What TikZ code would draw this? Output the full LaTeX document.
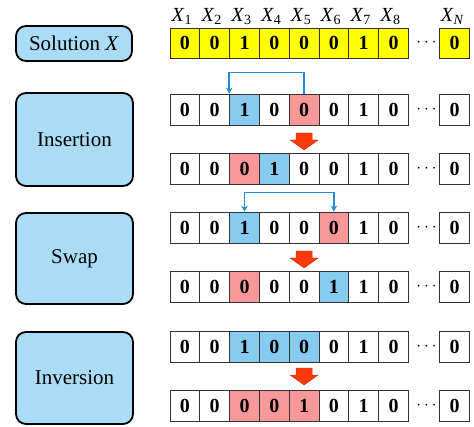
\documentclass[tikz,border=0pt]{standalone}
\usepackage{fontspec}
\setmainfont{Liberation Serif}
\usetikzlibrary{calc,arrows.meta}
\definecolor{cellblue}{RGB}{135,203,240}
\definecolor{cellpink}{RGB}{248,152,152}
\definecolor{boxblue}{RGB}{170,220,246}
\definecolor{connblue}{RGB}{30,140,215}
\definecolor{arrowred}{RGB}{250,58,10}
\definecolor{solyellow}{RGB}{255,255,0}
\newcommand{\cellrow}[4]{%
  \foreach \v/\f [count=\i] in {#3}{%
    \node[cell,fill=\f] (#1\i) at ({170+(\i-0.5)*29.8},#2) {\v};
  }
  \node[dotsnode] (#1d) at (426.5,#2) {$\cdots$};
  \node[cell,fill=#4] (#1N) at (454.5,#2) {0};
}
\newcommand{\redarrow}[1]{\filldraw[redarr, shift={(#1)}] (-8,-8.5) -- (8,-8.5) -- (8,-1.5) -- (14,-1.5) -- (0,8.5) -- (-14,-1.5) -- (-8,-1.5) -- cycle;}
\begin{document}
\begin{tikzpicture}[x=1pt,y=-1pt,
  cell/.style={draw=black!80,line width=0.8pt,minimum width=29.8pt,minimum height=31pt,inner sep=0pt,
     font=\fontsize{20}{24}\selectfont\bfseries},
  dotsnode/.style={inner sep=0pt,font=\fontsize{18}{20}\selectfont},
  lab/.style={anchor=base,inner sep=0pt,font=\fontsize{20}{24}\selectfont},
  opbox/.style={draw=black,line width=1.8pt,rounded corners=10pt,fill=boxblue,
     font=\fontsize{21}{25}\selectfont,inner sep=0pt},
  conn/.style={draw=connblue,line width=1.5pt,-{Stealth[length=6pt,width=6.5pt]}},
  redarr/.style={fill=arrowred,draw=arrowred!80!black,line width=0.4pt}]
\useasboundingbox (0,0) rectangle (474,426);
% operator boxes
\node[opbox,minimum width=116pt,minimum height=35pt] (sol) at (74,43.5) {Solution \textit{X}};
\node[opbox,minimum width=117pt,minimum height=93pt] (ins) at (74.5,139.5) {Insertion};
\node[opbox,minimum width=117pt,minimum height=91pt] (swp) at (74.5,258.5) {Swap};
\node[opbox,minimum width=117pt,minimum height=92pt] (inv) at (74.5,378) {Inversion};
% labels
\foreach \i in {1,...,8}{
  \node[lab] (lab\i) at ({167+(\i-0.5)*29.8},21.5) {\textit{X}\textsubscript{\i}};
}
\node[lab] (labN) at (452.5,21.5) {\textit{X}\textsubscript{\textit{N}}};
% rows
\begin{scope}
\tikzset{cell/.append style={minimum height=30pt}}
\cellrow{s}{43}{0/solyellow,0/solyellow,1/solyellow,0/solyellow,0/solyellow,0/solyellow,1/solyellow,0/solyellow}{solyellow}
\end{scope}
\cellrow{a}{109.5}{0/white,0/white,1/cellblue,0/white,0/cellpink,0/white,1/white,0/white}{white}
\cellrow{b}{169}{0/white,0/white,0/cellpink,1/cellblue,0/white,0/white,1/white,0/white}{white}
\cellrow{c}{227.5}{0/white,0/white,1/cellblue,0/white,0/white,0/cellpink,1/white,0/white}{white}
\cellrow{d}{287}{0/white,0/white,0/cellpink,0/white,0/white,1/cellblue,1/white,0/white}{white}
\cellrow{e}{347}{0/white,0/white,1/cellblue,0/cellblue,0/cellblue,0/white,1/white,0/white}{white}
\cellrow{f}{406}{0/white,0/white,0/cellpink,0/cellpink,1/cellpink,0/white,1/white,0/white}{white}
% blue connectors
\draw[conn] (a5.north) -- ++(0,-21) -| (a3.north west);
\draw[conn,{Stealth[length=6pt,width=6.5pt]}-{Stealth[length=6pt,width=6.5pt]}] (c3.north) -- ++(0,-19) -| (c6.north);
% red arrows
\coordinate (r1) at ($(a5.south)!0.58!(b5.north)$);
\coordinate (r2) at ($(c5.south)!0.58!(d5.north)$);
\coordinate (r3) at ($(e5.south)!0.5!(f5.north)$);
\redarrow{r1}
\redarrow{r2}
\redarrow{r3}
\end{tikzpicture}
\end{document}
